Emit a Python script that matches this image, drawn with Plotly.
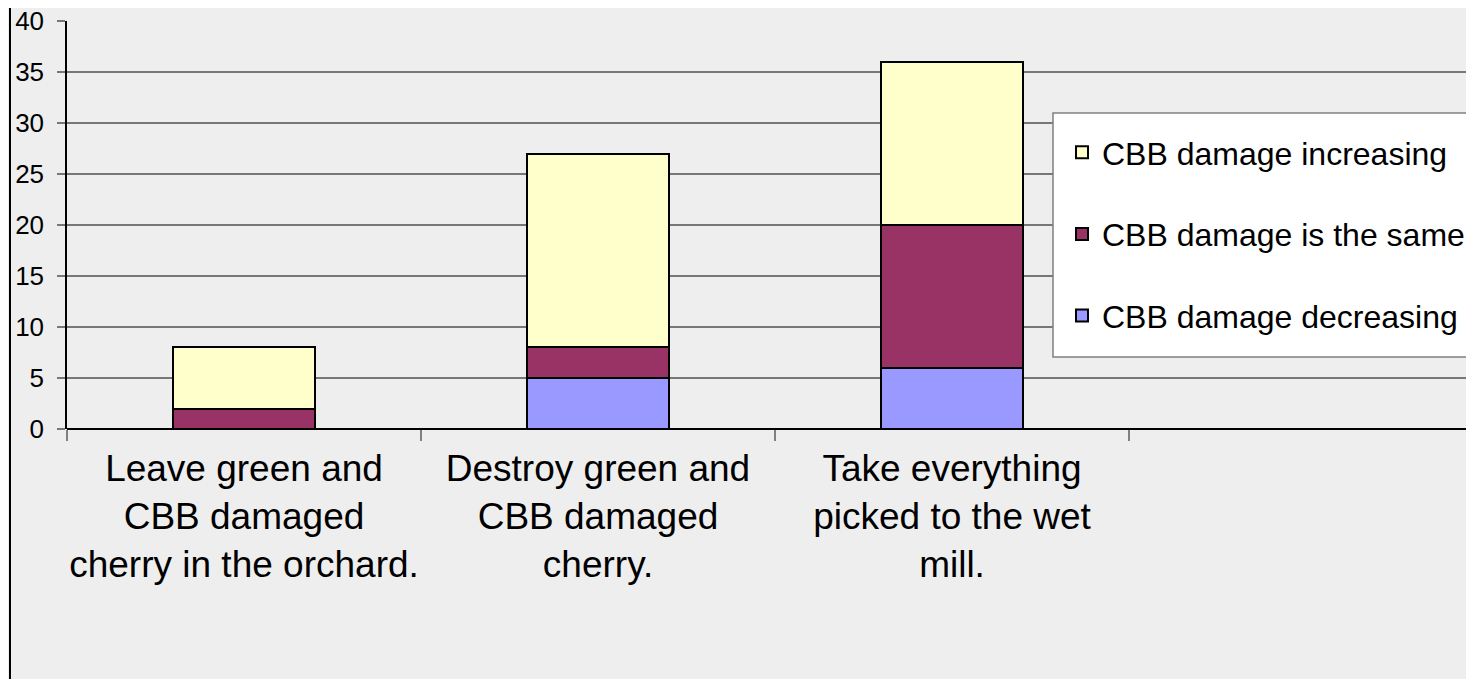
import plotly.graph_objects as go

categories = [
    "Leave green and<br>CBB damaged<br>cherry in the orchard.",
    "Destroy green and<br>CBB damaged<br>cherry.",
    "Take everything<br>picked to the wet<br>mill.",
]
all_slots = categories + [" "]

decreasing = [0, 5, 6]
same = [2, 3, 14]
increasing = [6, 19, 16]

series = [
    ("CBB damage decreasing", decreasing, "#9999FF", 3),
    ("CBB damage is the same", same, "#993366", 2),
    ("CBB damage increasing", increasing, "#FFFFCC", 1),
]

# page has an 8px body margin; screen coords = figure coords + 8
OFF = 8
W, H = 1474, 679
L, T, R = 67 - OFF, 21 - OFF, 0
B = (H + OFF) - 429
pw = W - L - R
ph = H - T - B

def px(xs):  # screen x -> paper x
    return (xs - 67) / pw

def py(ys):  # screen y -> paper y
    return 1 - (ys - 21) / ph

fig = go.Figure()
for name, vals, col, rank in series:
    fig.add_trace(go.Bar(
        x=categories, y=vals, name=name, legendgroup=name, legendrank=rank,
        marker=dict(color=col, line=dict(color="black", width=2)),
    ))

font = "Liberation Sans, Arial, sans-serif"
fig.update_layout(
    width=W, height=H,
    margin=dict(l=L, r=R, t=T, b=B, autoexpand=False),
    barmode="stack", bargap=0.6,
    paper_bgcolor="#eeeeee", plot_bgcolor="#eeeeee",
    font=dict(family=font, color="black"),
    showlegend=True,
    legend=dict(
        x=px(1062), y=py(125), xanchor="left", yanchor="top",
        bgcolor="rgba(0,0,0,0)", borderwidth=0,
        font=dict(size=32, family=font, color="black"),
        traceorder="grouped", tracegroupgap=37,
    ),
    xaxis=dict(
        type="category", categoryorder="array", categoryarray=all_slots,
        range=[-0.5, -0.5 + pw / 354], tickson="boundaries", ticks="outside", ticklen=11,
        tickcolor="#808080", tickwidth=2, showgrid=False, showline=False,
        tickfont=dict(size=37, family=font, color="black"), zeroline=False,
        ticklabelstandoff=14, tickangle=0,
    ),
    yaxis=dict(
        range=[0, 40], tickvals=[0, 5, 10, 15, 20, 25, 30, 35, 40],
        ticks="outside", ticklen=8, tickcolor="#777777", tickwidth=1.5,
        showgrid=True, gridcolor="#777777", gridwidth=1.5,
        showline=True, linecolor="black", linewidth=1.5,
        zeroline=True, zerolinecolor="black", zerolinewidth=2,
        tickfont=dict(size=26, family=font, color="black"),
        ticklabelstandoff=8, ticklabeloverflow="allow",
    ),
    shapes=[
        dict(
            type="line", xref="paper", yref="paper",
            x0=px(10), x1=px(10), y0=py(H + OFF + 5), y1=py(0),
            line=dict(color="black", width=2),
        ),
        dict(
            type="rect", xref="paper", yref="paper", layer="above",
            x0=px(1053), x1=px(1500), y0=py(357), y1=py(113),
            fillcolor="white", line=dict(color="#808080", width=1.5),
        ),
    ],
)

fig.write_html("out.html")
